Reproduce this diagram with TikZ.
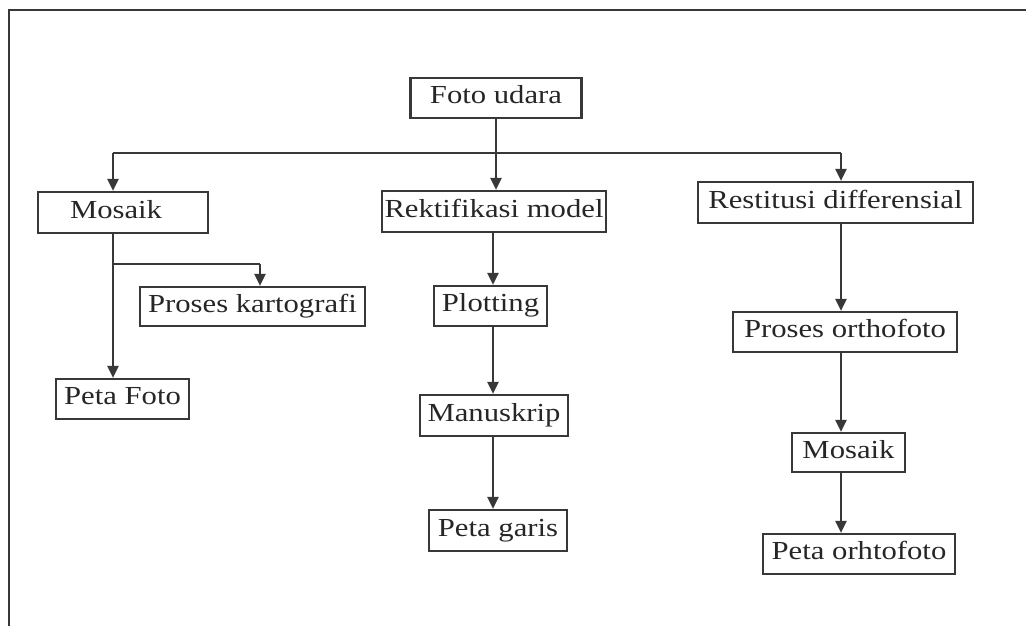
\documentclass[tikz,border=0pt]{standalone}
\usepackage{fontspec}
\setmainfont{Liberation Serif}[FakeStretch=1.18]
\usetikzlibrary{arrows.meta}
\definecolor{ink}{HTML}{262626}
\definecolor{linecol}{HTML}{383838}
\tikzset{
  stepbox/.style={draw=linecol, line width=2.2pt, inner sep=0pt, text=ink,
    font=\fontsize{26}{30}\selectfont, text height=17pt, text depth=6pt},
  arr/.style={draw=linecol, line width=2.2pt,
    -{Triangle[width=11pt,length=12pt]}},
  plain/.style={draw=linecol, line width=2.2pt},
}
\begin{document}
\begin{tikzpicture}[x=1pt,y=-1pt]
  \useasboundingbox (0,0) rectangle (1026,626);
  % outer frame (left and top edges)
  \draw[draw=linecol, line width=2.2pt] (9,626) -- (9,10) -- (1026,10);

  % boxes
  \node[stepbox, minimum width=171pt, minimum height=40pt] (foto) at (496,98) {Foto udara};
  \node[stepbox, minimum width=170pt, minimum height=41pt, text width=170pt, align=left] (mosL) at (123,212.5) {\hspace*{32pt}Mosaik};
  \node[stepbox, minimum width=224pt, minimum height=41pt] (rekt) at (494,211.5) {Rektifikasi model};
  \node[stepbox, minimum width=275pt, minimum height=41pt] (rest) at (835.5,202.5) {Restitusi differensial};
  \node[stepbox, minimum width=225pt, minimum height=39pt] (kart) at (252.5,306.5) {Proses kartografi};
  \node[stepbox, minimum width=133pt, minimum height=40pt] (petaF) at (122.5,399) {Peta Foto};
  \node[stepbox, minimum width=113pt, minimum height=40pt] (plot) at (490.5,306) {Plotting};
  \node[stepbox, minimum width=148pt, minimum height=41pt] (manu) at (494,415.5) {Manuskrip};
  \node[stepbox, minimum width=138pt, minimum height=41pt] (garis) at (498,530.5) {Peta garis};
  \node[stepbox, minimum width=224pt, minimum height=40pt] (ortho) at (845,332) {Proses orthofoto};
  \node[stepbox, minimum width=113pt, minimum height=39pt] (mosR) at (848.5,452.5) {Mosaik};
  \node[stepbox, minimum width=192pt, minimum height=40pt] (petaO) at (859,554) {Peta orhtofoto};

  % column guides and junctions
  \coordinate (colL) at (113,0);
  \coordinate (colM) at (493,0);
  \coordinate (colR) at (841,0);
  \coordinate (hub) at (496,153);
  \coordinate (br) at (113,264);
  \coordinate (kartIn) at (260,0);

  % top distribution
  \draw[arr] (foto.south) -- (foto.south |- rekt.north);
  \draw[plain] (hub -| colL) -- (hub -| colR);
  \draw[arr] (hub -| colL) -- (colL |- mosL.north);
  \draw[arr] (hub -| colR) -- (colR |- rest.north);

  % left branch
  \draw[arr] (colL |- mosL.south) -- (colL |- petaF.north);
  \draw[plain] (br) -- (br -| kartIn);
  \draw[arr] (br -| kartIn) -- (kartIn |- kart.north);

  % middle chain
  \draw[arr] (colM |- rekt.south) -- (colM |- plot.north);
  \draw[arr] (colM |- plot.south) -- (colM |- manu.north);
  \draw[arr] (colM |- manu.south) -- (colM |- garis.north);

  % right chain
  \draw[arr] (colR |- rest.south) -- (colR |- ortho.north);
  \draw[arr] (colR |- ortho.south) -- (colR |- mosR.north);
  \draw[arr] (colR |- mosR.south) -- (colR |- petaO.north);
\end{tikzpicture}
\end{document}
